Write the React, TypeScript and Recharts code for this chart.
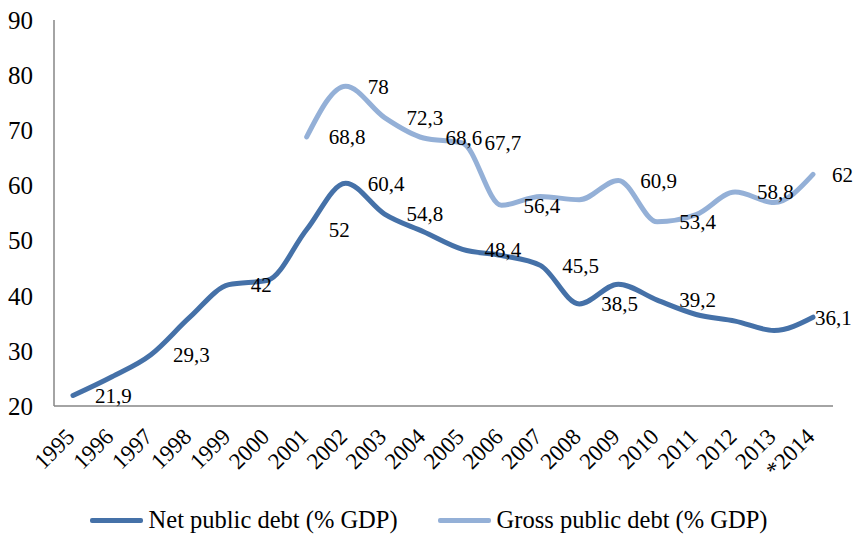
import React from 'react'
import { LineChart, Line, XAxis, YAxis, Legend } from 'recharts'

document.body.style.margin = '0'

const years = [
  '1995', '1996', '1997', '1998', '1999', '2000', '2001', '2002', '2003', '2004',
  '2005', '2006', '2007', '2008', '2009', '2010', '2011', '2012', '2013', '*2014',
]
const netDebt = [
  21.9, 25.3, 29.3, 36.1, 42, 42.8, 52, 60.4, 54.8, 51.6,
  48.4, 47.3, 45.5, 38.5, 42.1, 39.2, 36.6, 35.4, 33.7, 36.1,
]
const grossDebt = [
  null, null, null, null, null, null, 68.8, 78, 72.3, 68.6,
  67.7, 56.4, 58, 57.4, 60.9, 53.4, 54.7, 58.8, 56.9, 62,
]
// which points carry a data label in the original
const netLabelled = ['1995', '1997', '1999', '2001', '2002', '2003', '2005', '2007', '2008', '2010', '*2014']
const grossLabelled = ['2001', '2002', '2003', '2004', '2005', '2006', '2009', '2010', '2012', '*2014']
const yTicks = [20, 30, 40, 50, 60, 70, 80, 90]
const netName = 'Net public debt (% GDP)'
const grossName = 'Gross public debt (% GDP)'

const NET_COLOR = '#4571A8'
const GROSS_COLOR = '#94B0D7'
const AXIS_COLOR = '#868686'
const FONT = 'Liberation Serif'

const data = years.map((year, i) => ({ year, net: netDebt[i], gross: grossDebt[i] }))

const fmt = (v: number) => String(v).replace('.', ',')

function makeLabel(labelled: string[], lastDx: number) {
  return (props: any) => {
    const { x, y, index, value } = props
    if (value == null || !labelled.includes(years[index])) return null
    const dx = index === years.length - 1 ? lastDx : 22
    return (
      <text
        key={`lbl-${index}`}
        x={x + dx}
        y={y}
        dy="0.35em"
        fontSize={21}
        fontFamily={FONT}
        fill="#000"
      >
        {fmt(value)}
      </text>
    )
  }
}

function YearTick({ x, y, payload }: any) {
  const ax = x + 3
  const ay = y + 32
  return (
    <text
      x={ax}
      y={ay}
      transform={`rotate(-45, ${ax}, ${ay})`}
      textAnchor="end"
      fontSize={23}
      fontFamily={FONT}
      fill="#000"
    >
      {payload.value}
    </text>
  )
}

function LegendContent() {
  const items = [
    { name: netName, color: NET_COLOR },
    { name: grossName, color: GROSS_COLOR },
  ]
  return (
    <div style={{ display: 'flex', justifyContent: 'center', gap: 40, fontFamily: FONT, fontSize: 24.5 }}>
      {items.map((it) => (
        <div key={it.name} style={{ display: 'flex', alignItems: 'center' }}>
          <span style={{ display: 'inline-block', width: 53, height: 5, borderRadius: 2, background: it.color, marginRight: 6 }} />
          <span style={{ color: '#000', lineHeight: '30px' }}>{it.name}</span>
        </div>
      ))}
    </div>
  )
}

export default function App() {
  return (
    <div style={{ width: 857, height: 536, background: '#fff' }}>
      <LineChart width={857} height={536} data={data} margin={{ top: 20, right: 24, left: 0, bottom: 70 }}>
        <XAxis
          dataKey="year"
          interval={0}
          padding={{ left: 19, right: 20 }}
          axisLine={{ stroke: AXIS_COLOR, strokeWidth: 1.5 }}
          tickLine={false}
          tickSize={0}
          tickMargin={0}
          tick={<YearTick />}
          height={30}
        />
        <YAxis
          domain={[20, 90]}
          ticks={yTicks}
          width={54}
          axisLine={{ stroke: AXIS_COLOR, strokeWidth: 1.5 }}
          tickLine={false}
          tickSize={0}
          tickMargin={21}
          tick={{ fontSize: 25, fill: '#000', fontFamily: FONT }}
        />
        <Line
          type="monotone"
          dataKey="net"
          name={netName}
          stroke={NET_COLOR}
          strokeWidth={5}
          strokeLinecap="round"
          dot={false}
          activeDot={false}
          isAnimationActive={false}
          label={makeLabel(netLabelled, 2)}
        />
        <Line
          type="monotone"
          dataKey="gross"
          name={grossName}
          stroke={GROSS_COLOR}
          strokeWidth={5}
          strokeLinecap="round"
          dot={false}
          activeDot={false}
          connectNulls={false}
          isAnimationActive={false}
          label={makeLabel(grossLabelled, 19)}
        />
        <Legend
          verticalAlign="bottom"
          content={<LegendContent />}
          wrapperStyle={{ position: 'absolute', top: 505, bottom: 'auto', left: 0, width: 857, height: 30 }}
        />
      </LineChart>
    </div>
  )
}
